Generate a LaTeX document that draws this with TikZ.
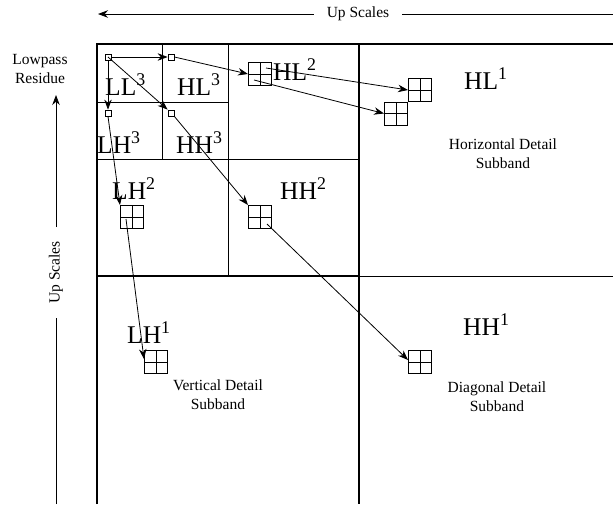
\documentclass[tikz,border=0pt]{standalone}
\usepackage{fontspec}
\setmainfont{Liberation Serif}
\usetikzlibrary{arrows.meta,calc}
\begin{document}
\begin{tikzpicture}[x=1pt,y=-1pt,
  bigtext/.style={anchor=base west,inner sep=0pt,font=\fontsize{25.5}{30}\selectfont},
  smalltext/.style={inner sep=0pt,font=\fontsize{15.5}{19}\selectfont,align=center},
  sqbox/.style={draw,line width=0.8pt,minimum size=6pt,inner sep=0pt},
  cellbox/.style={draw,line width=1pt,minimum size=23pt,inner sep=0pt,
    path picture={\draw[line width=1pt] (path picture bounding box.north) -- (path picture bounding box.south)
      (path picture bounding box.west) -- (path picture bounding box.east);}},
  arr/.style={line width=0.8pt,-{Stealth[length=10pt,width=7.5pt]}},
  frameline/.style={line width=1.6pt},
  innerline/.style={line width=0.9pt}
]
\useasboundingbox (0,0) rectangle (613,504);

% frame
\draw[frameline] (97,504) -- (97,44) -- (613,44);
\draw[frameline] (359,44) -- (359,504);
\draw[frameline] (97,276) -- (359,276);
\draw[innerline] (359,276) -- (613,276);
\draw[innerline] (228,44) -- (228,276) (97,159) -- (359,159)
  (162,44) -- (162,159) (97,102) -- (228,102);

% labels
\node[bigtext] (tLL3) at (105,95) {LL\textsuperscript{3}};
\node[bigtext] (tHL3) at (177,95) {HL\textsuperscript{3}};
\node[bigtext] (tLH3) at (97,153) {LH\textsuperscript{3}};
\node[bigtext] (tHH3) at (176,153) {HH\textsuperscript{3}};
\node[bigtext] (tHL2) at (273,80) {HL\textsuperscript{2}};
\node[bigtext] (tLH2) at (112,199) {LH\textsuperscript{2}};
\node[bigtext] (tHH2) at (280,199) {HH\textsuperscript{2}};
\node[bigtext] (tHL1) at (464,89) {HL\textsuperscript{1}};
\node[bigtext] (tLH1) at (127,343) {LH\textsuperscript{1}};
\node[bigtext] (tHH1) at (463,335) {HH\textsuperscript{1}};

\node[smalltext] (thd) at (503,154) {Horizontal Detail\\Subband};
\node[smalltext] (tvd) at (218,395) {Vertical Detail\\Subband};
\node[smalltext] (tdd) at (497,397) {Diagonal Detail\\Subband};
\node[smalltext] (tlr) at (40,69) {Lowpass\\Residue};

% axis arrows
\node[smalltext,inner xsep=13pt] (uptop) at (358,14) {Up Scales};
\coordinate (topL) at (98,14);
\coordinate (topR) at (613,14);
\draw[arr] (uptop.west) -- (topL);
\draw[line width=0.8pt] (topR) -- (uptop.east);
\node[smalltext,rotate=90,inner xsep=14pt] (upleft) at (56,272.5) {Up Scales};
\coordinate (leftT) at (56,95);
\coordinate (leftB) at (56,504);
\draw[arr] (upleft.east) -- (leftT);
\draw[line width=0.8pt] (leftB) -- (upleft.west);

% coefficient squares
\node[sqbox] (s11) at (108,57) {};
\node[sqbox] (s12) at (171,57) {};
\node[sqbox] (s21) at (108,113) {};
\node[sqbox] (s22) at (171,113) {};
\node[cellbox] (g2a) at (260,74) {};
\node[cellbox] (g2b) at (132,217) {};
\node[cellbox] (g2c) at (260,217) {};
\node[cellbox] (g1a) at (420,90) {};
\node[cellbox] (g1b) at (396,113.5) {};
\node[cellbox] (g1c) at (156,362) {};
\node[cellbox] (g1d) at (420,362) {};

% parent-child arrows
\draw[arr] (s11.east) -- (s12.west);
\draw[arr] (s11.south) -- (s21.north);
\draw[arr] (s11.center) -- (s22.north west);
\draw[arr] (s12.east) -- (g2a.west);
\draw[arr] ($(g2a.center)+(6,-6)$) -- (g1a.west);
\draw[arr] ($(g2a.center)+(-6,6)$) -- (g1b.west);
\draw[arr] (s21.south) -- (g2b.north west);
\draw[arr] (s22.south east) -- (g2c.north west);
\draw[arr] ($(g2b.center)+(-6,2)$) -- ($(g1c.west)+(0,-3)$);
\draw[arr] ($(g2c.center)+(7,7)$) -- ($(g1d.west)+(0,-2)$);
\end{tikzpicture}
\end{document}
